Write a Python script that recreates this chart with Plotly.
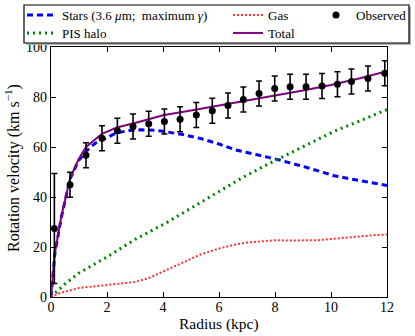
import plotly.graph_objects as go

# model curves (radius in kpc, velocity in km/s)
r_stars = [0, 0.14, 0.38, 0.68, 0.98, 1.28, 1.58, 1.82, 2.35, 2.8, 3.2, 3.7, 4.0, 4.7, 5.34, 6.0, 6.6, 7.4, 8.2, 9.2, 10.12, 11.0, 11.9, 12.0]
v_stars = [0, 17.6, 32.4, 47.2, 54.5, 58.6, 61.5, 62.9, 65.7, 66.6, 66.9, 66.7, 66.3, 65.0, 63.4, 61.2, 58.8, 56.8, 54.7, 51.6, 48.5, 46.6, 44.8, 44.6]

r_halo = [0, 0.5, 1, 2, 3, 4.17, 5.46, 6.78, 7.79, 8.45, 9.3, 10.12, 11.0, 11.85, 12.0]
v_halo = [0, 5.2, 9.6, 16.0, 23.0, 30.0, 38.6, 47.4, 53.4, 57.0, 61.8, 66.3, 70.3, 74.4, 75.0]

r_gas = [0, 0.3, 1, 2, 3, 3.5, 4, 4.5, 5, 5.34, 6, 6.5, 7, 7.5, 8, 8.5, 9, 9.5, 10, 10.5, 11, 11.5, 12]
v_gas = [0, 1.5, 3.6, 4.9, 6.0, 7.6, 10.2, 12.8, 15.4, 17.0, 19.4, 20.8, 21.8, 22.4, 22.7, 22.6, 22.5, 22.7, 23.2, 23.8, 24.3, 24.7, 25.0]

r_total = [0, 0.14, 0.38, 0.68, 0.98, 1.25, 1.82, 2.35, 3.0, 4.0, 5.0, 6.0, 7.0, 8.0, 9.0, 10.0, 11.0, 12.0]
v_total = [0, 17.8, 32.8, 47.4, 55.0, 60.0, 65.3, 67.8, 69.6, 72.7, 74.6, 76.5, 78.6, 80.6, 82.6, 84.8, 87.4, 90.3]

# observed rotation curve
r_obs = [0.12, 0.68, 1.25, 1.82, 2.37, 2.93, 3.49, 4.05, 4.61, 5.19, 5.76,
         6.32, 6.87, 7.43, 7.99, 8.54, 9.11, 9.68, 10.23, 10.73, 11.32, 11.92]
v_obs = [27.4, 44.9, 56.7, 63.5, 66.5, 68.2, 69.3, 70.2, 71.1, 72.8, 74.5,
         76.6, 79.0, 81.4, 83.4, 84.1, 84.1, 84.4, 85.1, 86.2, 87.4, 89.5]
e_obs = [22, 5, 5, 5, 5, 5, 5, 5, 5, 5, 5, 5, 5, 5, 5, 5, 5, 5, 5, 5, 5, 5]

FONT = "Liberation Serif"
W, H = 415, 336
L, R, T, B = 51, 28, 47, 39
PW, PH = W - L - R, H - T - B


def cx(px):
    return px / W


def cy(py):
    return 1 - py / H


def px_x(px):
    # pixel -> paper x
    return (px - L) / PW


def px_y(py):
    # pixel -> paper y
    return (H - B - py) / PH


fig = go.Figure()

fig.add_trace(go.Scatter(x=r_stars, y=v_stars, mode="lines", name="Stars (3.6 <i>μ</i>m;  maximum <i>γ</i>)",
                         line=dict(color="#0000ff", width=3, dash="6px,4px"), legend="legend2"))
fig.add_trace(go.Scatter(x=r_halo, y=v_halo, mode="lines", name="PIS halo",
                         line=dict(color="#008000", width=3, dash="2px,4px"), legend="legend3"))
fig.add_trace(go.Scatter(x=r_gas, y=v_gas, mode="lines", name="Gas",
                         line=dict(color="#ff3030", width=2, dash="2px,2px"), legend="legend4"))
fig.add_trace(go.Scatter(x=r_total, y=v_total, mode="lines", name="Total",
                         line=dict(color="#800080", width=2), legend="legend5"))
fig.add_trace(go.Scatter(x=r_obs, y=v_obs, mode="markers", name="Observed",
                         marker=dict(color="black", size=7),
                         error_y=dict(type="data", array=e_obs, color="black", thickness=1.6, width=3),
                         legend="legend6"))

# legend frame with a little shadow (drawn as shapes)
bx0, bx1, by0, by1 = 24, 409, 5, 43
fig.add_shape(type="rect", xref="paper", yref="paper",
              x0=px_x(bx0 + 2), x1=px_x(bx1 + 2), y0=px_y(by1 + 2), y1=px_y(by0 + 2),
              line=dict(width=0), fillcolor="#b0b0b0", layer="above")
fig.add_shape(type="rect", xref="paper", yref="paper",
              x0=px_x(bx0), x1=px_x(bx1), y0=px_y(by1), y1=px_y(by0),
              line=dict(color="black", width=1.2), fillcolor="white", layer="above")

leg = dict(font=dict(family=FONT, size=13, color="black"), bgcolor="rgba(0,0,0,0)",
           xref="container", yref="container", xanchor="left", yanchor="middle",
           itemwidth=30, borderwidth=0)

axis = dict(showline=True, linecolor="black", linewidth=1.2, mirror="allticks",
            ticks="inside", ticklen=5, tickcolor="black", showgrid=False, zeroline=False,
            tickfont=dict(family=FONT, size=14, color="black"))

fig.update_layout(
    width=W, height=H,
    margin=dict(l=L, r=R, t=T, b=B, autoexpand=False),
    paper_bgcolor="white", plot_bgcolor="white",
    font=dict(family=FONT, size=13, color="black"),
    xaxis=dict(axis, range=[0, 12], dtick=2, ticklabelstandoff=-3),
    yaxis=dict(axis, range=[0, 100], dtick=20),
    legend2=dict(leg, x=cx(22), y=cy(15)),
    legend3=dict(leg, x=cx(22), y=cy(33)),
    legend4=dict(leg, x=cx(228), y=cy(15)),
    legend5=dict(leg, x=cx(228), y=cy(33)),
    legend6=dict(leg, x=cx(316), y=cy(15)),
    annotations=[
        dict(text="Radius (kpc)", xref="paper", yref="paper", x=0.5, y=px_y(324),
             xanchor="center", yanchor="middle", showarrow=False,
             font=dict(family=FONT, size=15.5, color="black")),
        dict(text="Rotation velocity (km s<sup>−1</sup>)", xref="paper", yref="paper",
             x=px_x(12), y=px_y(168), xanchor="center", yanchor="middle", textangle=-90,
             showarrow=False, font=dict(family=FONT, size=16, color="black")),
    ],
)

fig.write_html("out.html", config={"displayModeBar": False},
               post_script="document.body.style.margin='0';")
